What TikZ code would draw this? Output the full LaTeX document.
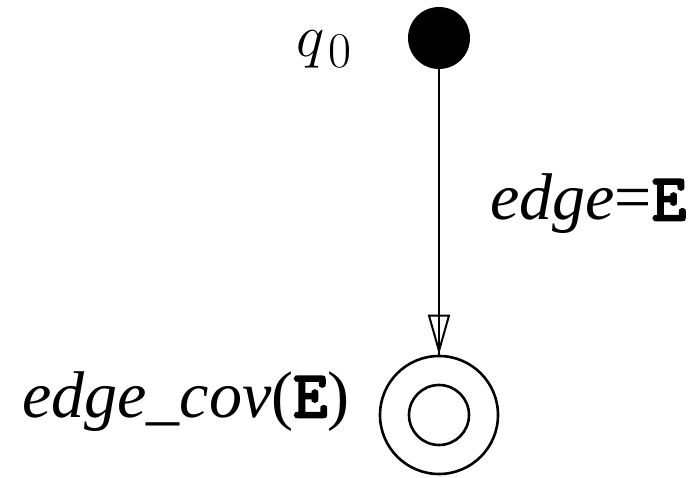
\RequirePackage{fix-cm}
\documentclass[tikz,border=0pt]{standalone}
\usepackage{fontspec}
\setmainfont{Liberation Serif}
\newfontfamily\monob[FakeBold=4]{Latin Modern Mono}
\usetikzlibrary{arrows.meta}
\newcommand{\boldE}{{\monob E}}
\begin{document}
\begin{tikzpicture}[x=1pt,y=-1pt,
  initstate/.style={circle,fill=black,minimum size=62pt,inner sep=0pt},
  ring/.style={circle,draw,line width=2.6pt,inner sep=0pt},
  lbl/.style={anchor=base west,inner sep=0pt,font=\fontsize{66}{66}\selectfont},
  conn/.style={line width=2pt}]
\useasboundingbox (0,0) rectangle (698,478);
\node[initstate] (q0) at (439,38) {};
\node[ring,minimum size=118pt] (fo) at (439,415) {};
\node[ring,minimum size=60pt] (fi) at (439,415) {};
\node[lbl,font=\fontsize{60}{60}\selectfont] (lq) at (296,57) {$q$\hspace{4pt}\raisebox{-11pt}{\fontsize{50}{50}\selectfont$0$}};
\node[lbl] (le) at (490,220) {\itshape edge\upshape=\boldE};
\node[lbl] (lf) at (22,417) {\itshape edge\_cov\upshape(\boldE)};
\draw[conn] (q0) -- (fo);
\draw[conn,-{Triangle[open,length=40pt,width=22pt,line width=2pt]}] (q0) -- (fo);
\end{tikzpicture}
\end{document}
